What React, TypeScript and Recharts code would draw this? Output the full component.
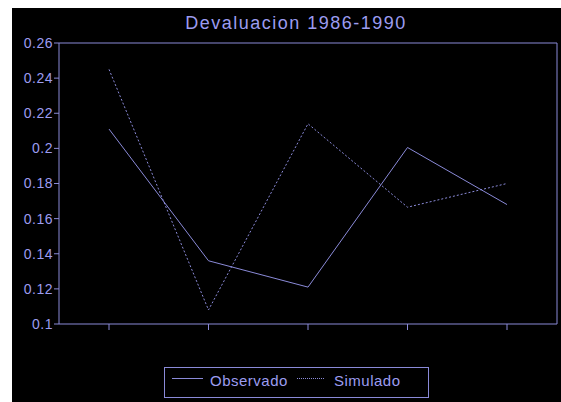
import React from "react";
import { Legend, Line, LineChart, ReferenceLine, XAxis, YAxis } from "recharts";

const years = ["1986", "1987", "1988", "1989", "1990"];
const observado = [0.211, 0.136, 0.121, 0.2005, 0.168];
const simulado = [0.245, 0.108, 0.214, 0.1665, 0.18];
const yTicks = [0.1, 0.12, 0.14, 0.16, 0.18, 0.2, 0.22, 0.24, 0.26];

const lineColor = "#8a8ad8";
const textColor = "#9c9cf0";
const font = "'Liberation Sans', Arial, sans-serif";

const data = years.map((year, i) => ({
    year,
    observado: observado[i],
    simulado: simulado[i],
}));

// legend box drawn by hand: solid / dotted sample then the label
const ChartLegend = () => (
    <div style={{ width: 549, height: 35, position: "relative" }}>
        <div
            style={{
                position: "absolute",
                left: 152,
                top: 0,
                width: 265,
                height: 31,
                boxSizing: "border-box",
                border: `1px solid ${lineColor}`,
                fontFamily: font,
                fontSize: 15,
                lineHeight: "15px",
                letterSpacing: 0.5,
                color: textColor,
            }}
        >
            <div style={{ position: "absolute", left: 7, top: 10, width: 31, borderTop: `1px solid ${lineColor}` }} />
            <span style={{ position: "absolute", left: 45, top: 5, whiteSpace: "nowrap" }}>Observado</span>
            <div style={{ position: "absolute", left: 132, top: 10, width: 27, borderTop: `1px dotted ${lineColor}` }} />
            <span style={{ position: "absolute", left: 169, top: 5, whiteSpace: "nowrap" }}>Simulado</span>
        </div>
    </div>
);

const App: React.FC = () => {
    return (
        <div
            style={{
                position: "fixed",
                left: 12,
                top: 8,
                width: 549,
                height: 394,
                background: "#000",
            }}
        >
            <div
                style={{
                    position: "absolute",
                    left: 0,
                    top: 6,
                    width: 568,
                    textAlign: "center",
                    fontFamily: font,
                    fontSize: 18,
                    lineHeight: "18px",
                    letterSpacing: 1.5,
                    color: textColor,
                }}
            >
                Devaluacion 1986-1990
            </div>
            <LineChart
                width={549}
                height={394}
                data={data}
                margin={{ top: 35, right: 0, left: 0, bottom: 0 }}
            >
                <XAxis
                    dataKey="year"
                    height={43}
                    padding={{ left: 50, right: 50 }}
                    tick={() => <g />}
                    tickSize={6}
                    stroke={lineColor}
                    axisLine={{ stroke: lineColor }}
                    tickLine={{ stroke: lineColor }}
                />
                <YAxis
                    width={47}
                    domain={[0.1, 0.26]}
                    ticks={yTicks}
                    interval={0}
                    allowDataOverflow
                    tickSize={5}
                    tickMargin={1}
                    stroke={lineColor}
                    tick={{ fill: textColor, fontFamily: font, fontSize: 14, letterSpacing: 0.5 }}
                />
                <YAxis
                    yAxisId="right"
                    orientation="right"
                    width={4}
                    domain={[0.1, 0.26]}
                    tick={false}
                    tickLine={false}
                    stroke={lineColor}
                />
                <ReferenceLine y={0.26} stroke={lineColor} />
                <Legend verticalAlign="bottom" content={<ChartLegend />} />
                <Line
                    type="linear"
                    dataKey="observado"
                    stroke={lineColor}
                    strokeWidth={1}
                    dot={false}
                    isAnimationActive={false}
                />
                <Line
                    type="linear"
                    dataKey="simulado"
                    stroke={lineColor}
                    strokeWidth={1}
                    strokeDasharray="2 2"
                    dot={false}
                    isAnimationActive={false}
                />
            </LineChart>
        </div>
    );
};

export default App;
